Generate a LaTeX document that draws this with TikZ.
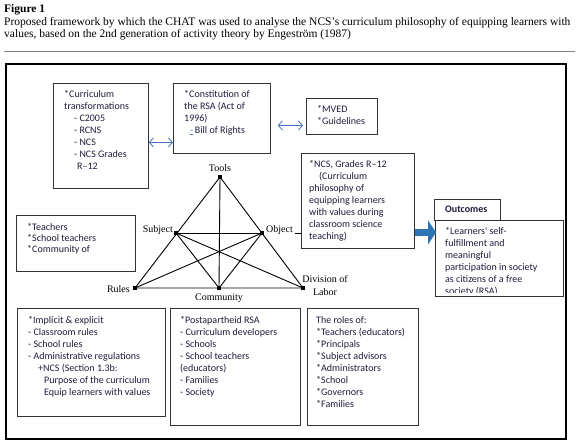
\documentclass[tikz,border=0pt]{standalone}
\usepackage{fontspec}
\setmainfont{Liberation Serif}
\newfontfamily\calibri{Carlito}
\usetikzlibrary{arrows.meta}
\definecolor{inkblue}{RGB}{28,28,60}
\definecolor{arrowblue}{RGB}{68,114,196}
\definecolor{outblue}{RGB}{46,117,182}

\tikzset{
    panel/.style={draw=black!80, line width=0.8pt, inner sep=0pt, anchor=north west},
    boxtext/.style={inner sep=0pt, anchor=north west, align=left, text=inkblue,
        font=\calibri\fontsize{10}{12}\selectfont},
    vertex/.style={fill=black, inner sep=0pt, minimum size=4.5pt},
    apex/.style={inner sep=0pt, font=\fontsize{10}{13}\selectfont},
    dblarrow/.style={arrowblue, line width=0.8pt,
        {Straight Barb[length=4pt,width=9pt]}-{Straight Barb[length=4pt,width=9pt]}}
}

\begin{document}
\begin{tikzpicture}[x=1pt, y=-1pt]
                \useasboundingbox (0,0) rectangle (580,443);
                % caption
                \node[anchor=base west, inner sep=0pt, font=\bfseries\fontsize{11.5}{12}\selectfont] (figtitle) at (4,13) {Figure 1};
                \node[anchor=north west, inner sep=0pt, align=left, font=\fontsize{11.5}{12}\selectfont] (caption) at (4,17)
                    {Proposed framework by which the CHAT was used to analyse the NCS's curriculum philosophy of equipping learners with\\
                     values, based on the 2nd generation of activity theory by Engestr\"om (1987)};
                \draw[gray, line width=0.8pt] (4,51) -- (575,51);
                \node[panel, draw=black, line width=1.8pt, minimum width=560pt, minimum height=375pt] (frame) at (5,63) {};
                % boxes
                \node[panel, minimum width=95pt, minimum height=105pt] (curriculum) at (53,83) {};
                \node[panel, minimum width=97pt, minimum height=70pt] (constitution) at (173,83) {};
                \node[panel, minimum width=71pt, minimum height=36pt] (mved) at (306,98) {};
                \node[panel, minimum width=113pt, minimum height=95pt] (ncsbox) at (301,153) {};
                \node[panel, minimum width=66pt, minimum height=21pt] (outhead) at (434,199) {};
                \node[panel, minimum width=128pt, minimum height=76pt] (outbody) at (435,220) {};
                \node[panel, minimum width=119pt, minimum height=56pt] (subjbox) at (16,215) {};
                \node[panel, minimum width=148pt, minimum height=108pt] (rulesbox) at (17,308) {};
                \node[panel, minimum width=130pt, minimum height=117pt] (commbox) at (170,308) {};
                \node[panel, minimum width=111pt, minimum height=117pt] (labourbox) at (307,308) {};
                % box texts
                \node[boxtext] (curriculumtxt) at (64,90.5) {*Curriculum\\transformations\\
                    \hspace*{10pt}- C2005\\\hspace*{10pt}- RCNS\\\hspace*{10pt}- NCS\\
                    \hspace*{10pt}- NCS Grades\\\hspace*{13pt}R\textendash12};
                \node[boxtext] (constitutiontxt) at (184,90) {*Constitution of\\the RSA (Act of\\1996)\\
                    \hspace*{6pt}{\color{arrowblue}\underline{-}}\,Bill of Rights};
                \node[boxtext] (mvedtxt) at (317,105) {*MVED\\*Guidelines};
                \node[boxtext] (ncstxt) at (309,160) {*NCS, Grades R\textendash12\\\hspace*{10pt}(Curriculum\\philosophy of\\
                    equipping learners\\with values during\\classroom science\\teaching)};
                \node[boxtext, font=\calibri\bfseries\fontsize{10}{12}\selectfont] (outheadtxt) at (445,206) {Outcomes};
                \begin{scope}
                    % the last line is cut off
                    \clip (outbody.north west) rectangle ([yshift=4pt]outbody.south east);
                    \node[boxtext] (outbodytxt) at (445,227.5) {*Learners' self-\\fulfillment and\\meaningful\\
                        participation in society\\as citizens of a free\\society (RSA)};
                \end{scope}
                \node[boxtext, font=\calibri\fontsize{10}{11}\selectfont] (subjtxt) at (27,223) {*Teachers\\*School teachers\\*Community of};
                \node[boxtext] (rulestxt) at (28,316) {*Implicit \& explicit\\- Classroom rules\\- School rules\\
                    - Administrative regulations\\\hspace*{10pt}+NCS (Section 1.3b:\\
                    \hspace*{16pt}Purpose of the curriculum\\\hspace*{16pt}Equip learners with values};
                \node[boxtext] (commtxt) at (180,316) {*Postapartheid RSA\\- Curriculum developers\\- Schools\\
                    - School teachers\\(educators)\\- Families\\- Society};
                \node[boxtext] (labourtxt) at (316,316) {The roles of:\\*Teachers (educators)\\*Principals\\
                    *Subject advisors\\*Administrators\\*School\\*Governors\\*Families};
                % links between boxes
                \draw[dblarrow] ([yshift=-6.5pt]curriculum.east) -- ([yshift=-24pt]constitution.west);
                \draw[dblarrow, shorten <=7pt, shorten >=3pt] ([yshift=-7pt]constitution.east) -- ([yshift=-9pt]mved.west);
                \draw[outblue, line width=7pt, -{Triangle[length=8pt, width=24pt]}]
                    ([yshift=-31.5pt]ncsbox.east) -- ([yshift=26pt, xshift=1pt]outbody.west);
                % activity triangle
                \node[vertex] (tools) at (220,177) {};
                \node[vertex] (subject) at (176,233) {};
                \node[vertex] (object) at (262,233) {};
                \node[vertex] (rules) at (135,288) {};
                \node[vertex] (community) at (219,288) {};
                \node[vertex] (division) at (303,288) {};
                \draw[line width=0.9pt] (tools.center) -- (rules.center) -- (division.center) -- cycle;
                \draw[line width=0.9pt] (tools.center) -- (community.center);
                \draw[line width=0.9pt] (subject.center) -- (object.center);
                \draw[line width=0.9pt] (subject.center) -- (community.center);
                \draw[line width=0.9pt] (subject.center) -- (division.center);
                \draw[line width=0.9pt] (object.center) -- (rules.center);
                \draw[line width=0.9pt] (object.center) -- (community.center);
                \node[apex, anchor=base] (toolslbl) at (220,172) {Tools};
                \node[apex, anchor=base east] (subjectlbl) at (173,233) {Subject};
                \node[apex, anchor=base west] (objectlbl) at (266,233) {Object};
                \node[apex, anchor=base east] (ruleslbl) at (130,292) {Rules};
                \node[apex, anchor=base] (communitylbl) at (219,300) {Community};
                \node[apex, anchor=north, align=center] (divisionlbl) at (325,275) {Division of\\Labor};
                \draw[line width=0.8pt] ([xshift=2pt]objectlbl.east |- object.center) -- (ncsbox.west |- object.center);
            \end{tikzpicture}
\end{document}
